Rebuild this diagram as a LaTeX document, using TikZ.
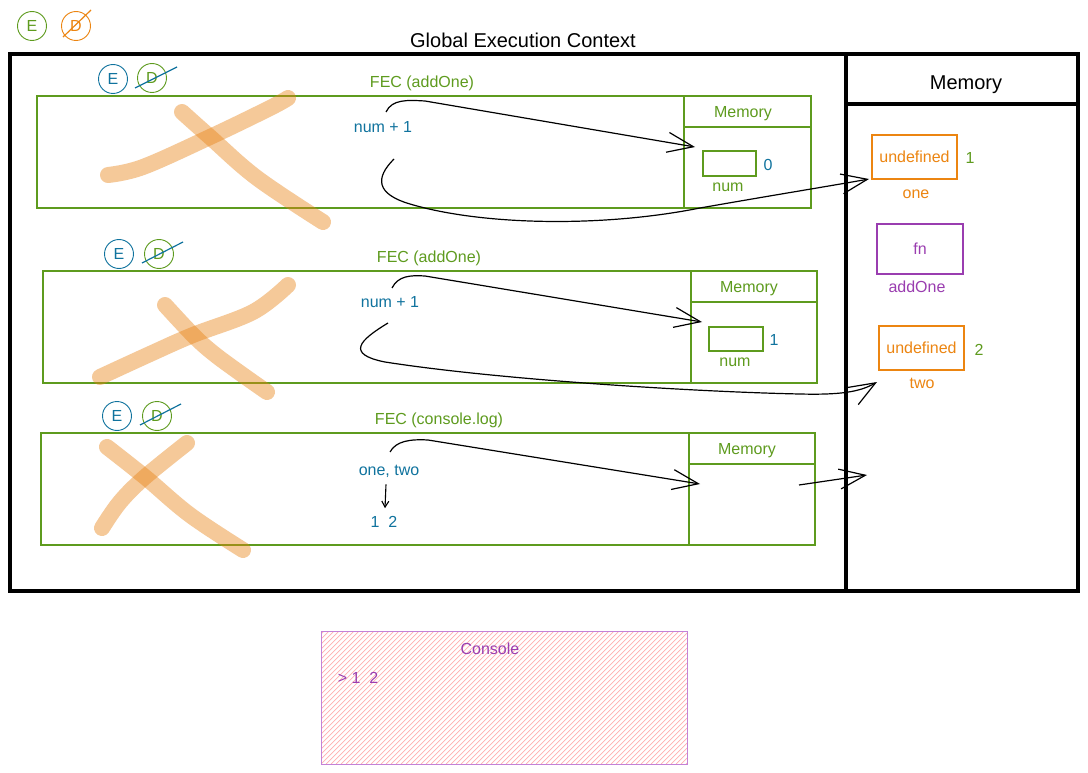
\documentclass[tikz,border=0pt]{standalone}
\usepackage{fontspec}
\setmainfont{Liberation Sans}
\usetikzlibrary{arrows.meta}
\definecolor{gr}{HTML}{5E9B1E}
\definecolor{tl}{HTML}{10739E}
\definecolor{org}{HTML}{EC8511}
\definecolor{pur}{HTML}{9A3DB0}
\definecolor{hl}{RGB}{232,130,20}
\definecolor{hatch}{RGB}{255,175,175}
\definecolor{conb}{RGB}{195,130,215}
\tikzset{
  lbl/.style={font=\fontsize{16}{19}\selectfont, inner sep=0pt, yshift=-2pt},
  big/.style={font=\fontsize{20}{24}\selectfont, inner sep=0pt, yshift=-2.5pt},
  fecbox/.style={draw=gr, line width=1.2pt},
  circ/.style={circle, draw, line width=0.9pt, minimum size=29pt, inner sep=0pt, font=\fontsize{16}{19}\selectfont},
  xstroke/.style={draw=hl, draw opacity=0.43, line width=16pt, line cap=round, line join=round},
  arr/.style={line width=1.2pt, -{Straight Barb[length=26pt,width=20pt]}},
  slash/.style={line width=1.2pt},
}
\begin{document}
\begin{tikzpicture}[x=1pt,y=-1pt]
\useasboundingbox (0,0) rectangle (1088,773);
\fill[white] (0,0) rectangle (1088,773);

% top legend
\node[circ, draw=gr, text=gr] (tE) at (32,26) {E};
\node[circ, draw=org, text=org] (tD) at (76,26) {D};
\draw[org, slash] (63,37) -- (91,10);

% global execution context
\node[big] (gtitle) at (523,38) {Global Execution Context};
\draw[line width=4pt] (10,54) rectangle (1078,591);
\draw[line width=4pt] (846,54) -- (846,591);
\draw[line width=4pt] (846,104) -- (1078,104);
\node[big] (gmem) at (966,82) {Memory};

% ---------- FEC 1 ----------
\draw[fecbox] (37,96) rectangle (811,208);
\draw[fecbox] (684,96) -- (684,208);
\draw[fecbox] (684,127) -- (811,127);
\node[lbl, text=gr] (f1t) at (422,81) {FEC (addOne)};
\node[lbl, text=gr] (f1m) at (743,112) {Memory};
\node[draw=gr, line width=1.1pt, minimum width=53pt, minimum height=25pt, inner sep=0pt] (f1box) at (729.5,163.5) {};
\node[lbl, text=tl] (f1v) at (768,163) {0};
\node[lbl, text=gr] (f1n) at (728,185) {num};
\node[lbl, text=tl] (f1e) at (383,125) {num + 1};
\node[circ, draw=tl, text=tl] (f1E) at (113,79) {E};
\node[circ, draw=gr, text=gr] (f1D) at (152,78) {D};
\draw[tl, slash] (135,88) -- (177,67);
\draw[xstroke] plot[smooth, tension=0.6] coordinates {(108,175) (143,167) (210,137) (270,108) (288,98)};
\draw[xstroke] plot[smooth, tension=0.6] coordinates {(182,112) (210,137) (257,178) (323,222)};

% ---------- FEC 2 ----------
\draw[fecbox] (43,271) rectangle (817,383);
\draw[fecbox] (691,271) -- (691,383);
\draw[fecbox] (691,302) -- (817,302);
\node[lbl, text=gr] (f2t) at (429,256) {FEC (addOne)};
\node[lbl, text=gr] (f2m) at (749,287) {Memory};
\node[draw=gr, line width=1.1pt, minimum width=54pt, minimum height=24pt, inner sep=0pt] (f2box) at (736,339) {};
\node[lbl, text=tl] (f2v) at (774,338) {1};
\node[lbl, text=gr] (f2n) at (735,360) {num};
\node[lbl, text=tl] (f2e) at (390,300) {num + 1};
\node[circ, draw=tl, text=tl] (f2E) at (119,254) {E};
\node[circ, draw=gr, text=gr] (f2D) at (159,254) {D};
\draw[tl, slash] (142,263) -- (183,242);
\draw[xstroke] plot[smooth, tension=0.6] coordinates {(100,377) (150,354) (193,335) (253,312) (288,285)};
\draw[xstroke] plot[smooth, tension=0.6] coordinates {(165,305) (193,335) (213,353) (240,373) (267,392)};

% ---------- FEC 3 ----------
\draw[fecbox] (41,433) rectangle (815,545);
\draw[fecbox] (689,433) -- (689,545);
\draw[fecbox] (689,464) -- (815,464);
\node[lbl, text=gr] (f3t) at (439,418) {FEC (console.log)};
\node[lbl, text=gr] (f3m) at (747,449) {Memory};
\node[lbl, text=tl] (f3e) at (389,469) {one, two};
\node[lbl, text=tl] (f3r) at (384,520) {1\ \ 2};
\node[circ, draw=tl, text=tl] (f3E) at (117,416) {E};
\node[circ, draw=gr, text=gr] (f3D) at (157,416) {D};
\draw[tl, slash] (140,425) -- (181,404);
\draw[xstroke] plot[smooth, tension=0.6] coordinates {(102,528) (120,502) (145,477) (187,443)};
\draw[xstroke] plot[smooth, tension=0.6] coordinates {(107,447) (145,477) (190,515) (243,550)};
\draw[line width=1.1pt, -{Straight Barb[length=6pt,width=7pt]}] ([xshift=-3pt,yshift=-7pt]f3e.south) -- ([xshift=1pt,yshift=8pt]f3r.north);

% ---------- global memory ----------
\node[draw=org, line width=1.2pt, minimum width=85pt, minimum height=44pt, inner sep=0pt, lbl, text=org, yshift=2pt] (g1) at (914.5,157) {undefined};
\node[lbl, text=gr] (g1v) at (970,156) {1};
\node[lbl, text=org] (g1n) at (916,192) {one};
\node[draw=pur, line width=1.2pt, minimum width=86pt, minimum height=50pt, inner sep=0pt, lbl, text=pur, yshift=2pt] (g2) at (920,249) {fn};
\node[lbl, text=pur] (g2n) at (917,285) {addOne};
\node[draw=org, line width=1.2pt, minimum width=85pt, minimum height=44pt, inner sep=0pt, lbl, text=org, yshift=2pt] (g3) at (921.5,348) {undefined};
\node[lbl, text=gr] (g3v) at (979,348) {2};
\node[lbl, text=org] (g3n) at (922,381) {two};

% ---------- arrows ----------
\coordinate (a1s) at (386,112);
\coordinate (a1e) at (695,147);
\coordinate (b1s) at (394,159);
\coordinate (b1e) at (869,179);
\coordinate (a2s) at (392,288);
\coordinate (a2e) at (702,322);
\coordinate (b2s) at (388,323);
\coordinate (b2e) at (877,382);
\coordinate (a3s) at (390,452);
\coordinate (a3e) at (700,484);
\coordinate (b3s) at (799,485);
\coordinate (b3e) at (867,475);

\draw[arr] (a1s) .. controls (392,99) and (408,100) .. (425,101) -- (a1e);
\draw[arr] (b1s) .. controls (375,178) and (376,194) .. (410,204) .. controls (480,225) and (600,228) .. (700,208) .. controls (780,194) and (830,186) .. (b1e);
\draw[arr] (a2s) .. controls (398,276) and (410,275) .. (425,276) -- (a2e);
\draw[arr] (b2s) .. controls (360,340) and (345,354) .. (385,362) .. controls (500,380) and (700,392) .. (800,394) .. controls (840,395) and (860,392) .. (b2e);
\draw[arr] (a3s) .. controls (396,441) and (410,439) .. (428,440) -- (a3e);
\draw[arr] (b3s) -- (b3e);

% ---------- console ----------
\begin{scope}
\clip (321,631) rectangle (687,764);
\foreach \x in {186,191,...,690} \draw[hatch, line width=0.7pt] (\x,764) -- ++(133,-133);
\end{scope}
\draw[conb, line width=1pt] (321,631) rectangle (687,764);
\node[lbl, text=pur] (cont) at (490,647) {Console};
\node[lbl, text=pur] (conv) at (358,676) {> 1\ \ 2};
\end{tikzpicture}
\end{document}
